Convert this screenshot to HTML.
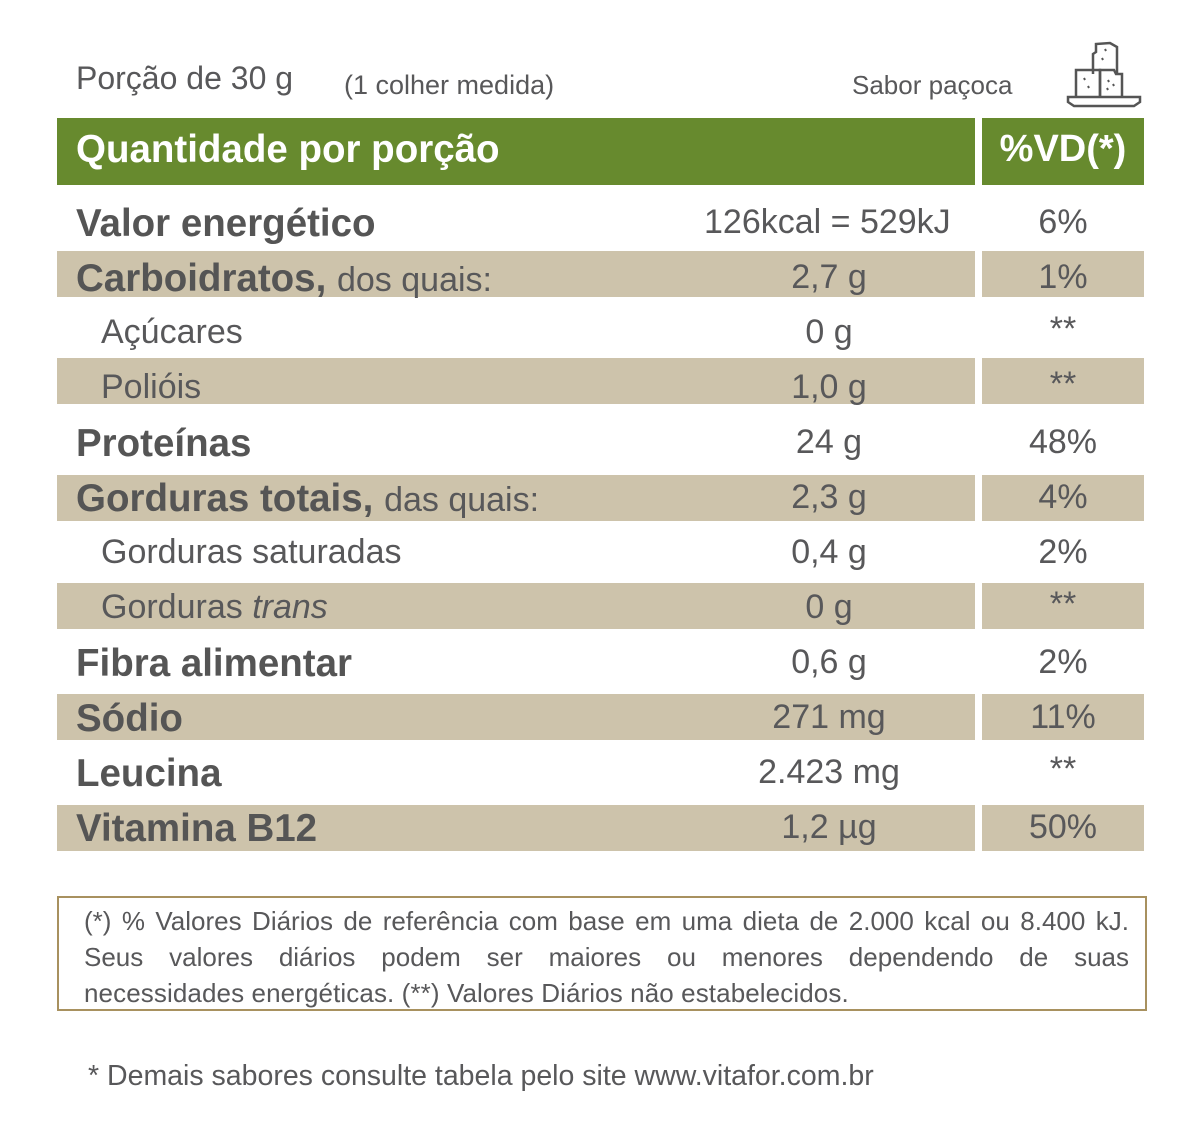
<!DOCTYPE html>
<html><head><meta charset="utf-8"><style>
body{margin:0;background:#fff;width:1200px;height:1138px;position:relative;overflow:hidden;font-family:"Liberation Sans",sans-serif;color:#58585a}
.a{position:absolute;white-space:nowrap}
.sh{position:absolute;background:#cdc3ab;height:46px}
.b{font-weight:bold;font-size:38.5px;color:#555}
.r{font-size:34px;color:#58585a}
.c{text-align:center}
.j{text-align:justify;text-align-last:justify;width:1045px;white-space:normal}
</style></head><body>
<div class="a" style="left:76px;top:60px;font-size:32px">Porção de 30 g</div>
<div class="a" style="left:344px;top:70px;font-size:27px">(1 colher medida)</div>
<div class="a" style="left:852px;top:70px;font-size:26px">Sabor paçoca</div>
<svg class="a" style="left:1062px;top:40px" width="84" height="70" viewBox="0 0 84 70" fill="none" stroke="#555" stroke-width="2.5">
<path d="M31 34 V14 L34 12 V4 L48 3 L55 7 V34"/>
<path d="M14 56 V30 H38 V56"/><path d="M38 56 V30 H52 L54 34 H60 V56"/>
<path d="M6 57 H78 V62 L72 66 H12 L6 62 Z"/>
<g stroke-width="2"><path d="M43 9l1 2M40 18l1 2M22 38l1 2M26 46l1 2M46 40l1 2M45 48l1 2M51 44l1 2"/></g>
</svg>
<div class="a" style="left:57px;top:118px;width:918px;height:67px;background:#678a2e"></div>
<div class="a" style="left:982px;top:118px;width:162px;height:67px;background:#678a2e"></div>
<div class="a" style="left:76px;top:128px;font-size:38.5px;font-weight:bold;color:#fff">Quantidade por porção</div>
<div class="a" style="left:982px;width:162px;top:128px;font-size:38px;font-weight:bold;color:#fff;text-align:center">%VD(*)</div>

<div class="sh" style="left:57px;width:918px;top:251px"></div><div class="sh" style="left:982px;width:162px;top:251px"></div>
<div class="sh" style="left:57px;width:918px;top:358px"></div><div class="sh" style="left:982px;width:162px;top:358px"></div>
<div class="sh" style="left:57px;width:918px;top:475px"></div><div class="sh" style="left:982px;width:162px;top:475px"></div>
<div class="sh" style="left:57px;width:918px;top:583px"></div><div class="sh" style="left:982px;width:162px;top:583px"></div>
<div class="sh" style="left:57px;width:918px;top:694px"></div><div class="sh" style="left:982px;width:162px;top:694px"></div>
<div class="sh" style="left:57px;width:918px;top:805px"></div><div class="sh" style="left:982px;width:162px;top:805px"></div>

<div class="a b" style="left:76px;top:202px">Valor energético</div>
<div class="a b" style="left:76px;top:257px">Carboidratos, <span class="r" style="font-weight:normal">dos quais:</span></div>
<div class="a r" style="left:101px;top:313px">Açúcares</div>
<div class="a r" style="left:101px;top:368px">Polióis</div>
<div class="a b" style="left:76px;top:422px">Proteínas</div>
<div class="a b" style="left:76px;top:477px">Gorduras totais, <span class="r" style="font-weight:normal">das quais:</span></div>
<div class="a r" style="left:101px;top:533px">Gorduras saturadas</div>
<div class="a r" style="left:101px;top:588px">Gorduras <i>trans</i></div>
<div class="a b" style="left:76px;top:642px">Fibra alimentar</div>
<div class="a b" style="left:76px;top:697px">Sódio</div>
<div class="a b" style="left:76px;top:752px">Leucina</div>
<div class="a b" style="left:76px;top:807px">Vitamina B12</div>

<div class="a r" style="left:704px;top:203px">126kcal = 529kJ</div>
<div class="a r c" style="left:729px;width:200px;top:258px">2,7 g</div>
<div class="a r c" style="left:729px;width:200px;top:313px">0 g</div>
<div class="a r c" style="left:729px;width:200px;top:368px">1,0 g</div>
<div class="a r c" style="left:729px;width:200px;top:423px">24 g</div>
<div class="a r c" style="left:729px;width:200px;top:478px">2,3 g</div>
<div class="a r c" style="left:729px;width:200px;top:533px">0,4 g</div>
<div class="a r c" style="left:729px;width:200px;top:588px">0 g</div>
<div class="a r c" style="left:729px;width:200px;top:643px">0,6 g</div>
<div class="a r c" style="left:729px;width:200px;top:698px">271 mg</div>
<div class="a r c" style="left:729px;width:200px;top:753px">2.423 mg</div>
<div class="a r c" style="left:729px;width:200px;top:808px">1,2 µg</div>

<div class="a r c" style="left:982px;width:162px;top:203px">6%</div>
<div class="a r c" style="left:982px;width:162px;top:258px">1%</div>
<div class="a r c" style="left:982px;width:162px;top:310px">**</div>
<div class="a r c" style="left:982px;width:162px;top:365px">**</div>
<div class="a r c" style="left:982px;width:162px;top:423px">48%</div>
<div class="a r c" style="left:982px;width:162px;top:478px">4%</div>
<div class="a r c" style="left:982px;width:162px;top:533px">2%</div>
<div class="a r c" style="left:982px;width:162px;top:585px">**</div>
<div class="a r c" style="left:982px;width:162px;top:643px">2%</div>
<div class="a r c" style="left:982px;width:162px;top:698px">11%</div>
<div class="a r c" style="left:982px;width:162px;top:750px">**</div>
<div class="a r c" style="left:982px;width:162px;top:808px">50%</div>

<div class="a" style="left:57px;top:896px;width:1086px;height:111px;border:2px solid #a8915f"></div>
<div class="a j" style="left:84px;top:903px;font-size:26px;line-height:36px">(*) % Valores Diários de referência com base em uma dieta de 2.000 kcal ou 8.400 kJ.</div>
<div class="a j" style="left:84px;top:939px;font-size:26px;line-height:36px">Seus valores diários podem ser maiores ou menores dependendo de suas</div>
<div class="a" style="left:84px;top:975px;font-size:26px;line-height:36px;letter-spacing:0.1px">necessidades energéticas. (**) Valores Diários não estabelecidos.</div>
<div class="a" style="left:88px;top:1060px;font-size:28.5px">* Demais sabores consulte tabela pelo site www.vitafor.com.br</div>
</body></html>
